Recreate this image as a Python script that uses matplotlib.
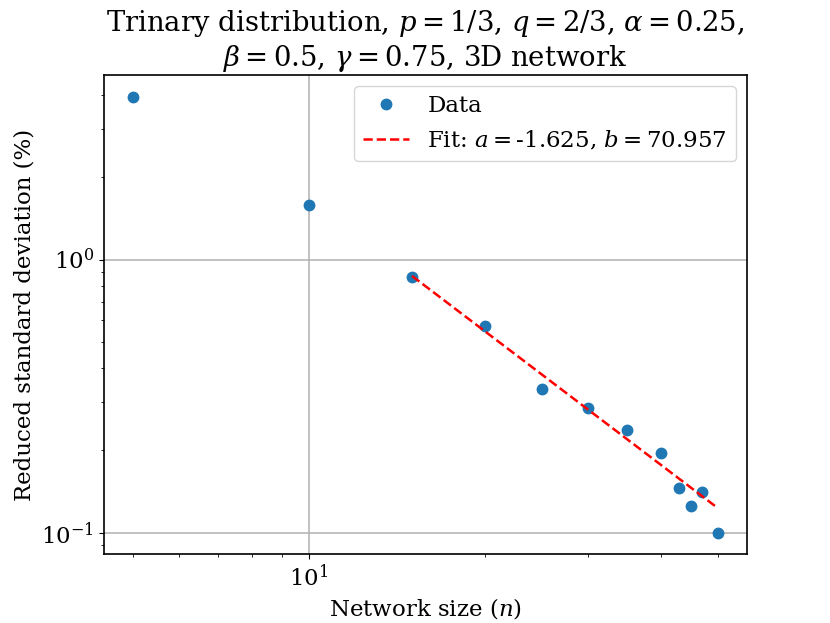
import numpy as np
import matplotlib
matplotlib.use("Agg")
import matplotlib.pyplot as plt

plt.rcParams['font.family'] = 'DejaVu Serif'
plt.rcParams['mathtext.fontset'] = 'dejavuserif'
plt.rcParams['font.size'] = 16.5

n_values = [5, 10, 15, 20, 25, 30, 35, 40, 43, 45, 47, 50]
rsd_values = [3.95, 1.59, 0.86, 0.573, 0.337, 0.287, 0.238, 0.195, 0.146, 0.125, 0.141, 0.100]
fit_a = -1.625
fit_b = 70.957
fit_n = [15, 20, 25, 30, 35, 40, 43, 45, 47, 50]

fig, ax = plt.subplots(figsize=(8.3, 6.23), dpi=100)
ax.plot(n_values, rsd_values, 'o', color='#1f77b4', label='Data', markersize=7.5)
fit_x = np.array(fit_n, dtype=float)
ax.plot(fit_x, fit_b * fit_x ** fit_a, '--', color='red', linewidth=1.8,
        label=f'Fit: $a=${fit_a}, $b=${fit_b}')
ax.set_xscale('log')
ax.set_yscale('log')
ax.grid(True, which='major', linewidth=1.1)
for s in ax.spines.values():
    s.set_linewidth(1.2)
ax.set_xlabel('Network size ($n$)')
ax.set_ylabel('Reduced standard deviation (%)')
ax.set_title('Trinary distribution, $p=1/3$, $q=2/3$, $\\alpha=0.25$,\n'
             '$\\beta=0.5$, $\\gamma=0.75$, 3D network')
ax.legend(loc='upper right')
fig.savefig('out.png', dpi=100)
